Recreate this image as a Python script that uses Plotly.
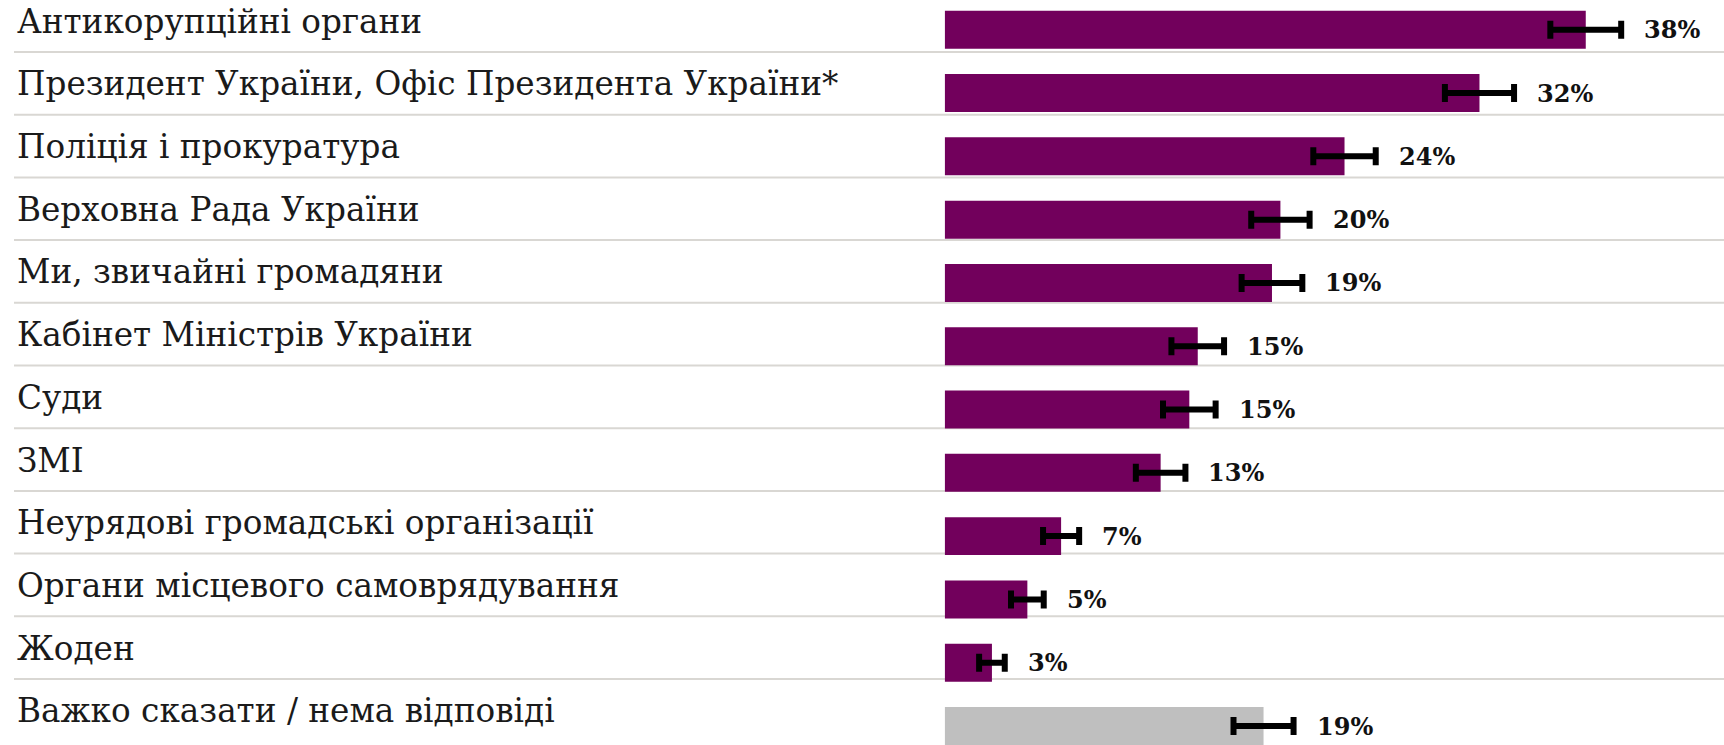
import plotly.graph_objects as go

categories = [
    "Антикорупційні органи",
    "Президент України, Офіс Президента України*",
    "Поліція і прокуратура",
    "Верховна Рада України",
    "Ми, звичайні громадяни",
    "Кабінет Міністрів України",
    "Суди",
    "ЗМІ",
    "Неурядові громадські організації",
    "Органи місцевого самоврядування",
    "Жоден",
    "Важко сказати / нема відповіді",
]
values = [38.0, 31.7, 23.7, 19.9, 19.4, 15.0, 14.5, 12.8, 6.9, 4.9, 2.8, 18.9]
errors = [2.1, 2.05, 1.85, 1.73, 1.8, 1.56, 1.56, 1.47, 1.07, 0.97, 0.76, 1.78]
value_labels = ["38%", "32%", "24%", "20%", "19%", "15%", "15%", "13%", "7%", "5%", "3%", "19%"]

PURPLE = "#72005c"
GRAY = "#bfbfbf"
colors = [PURPLE] * (len(categories) - 1) + [GRAY]

W, H = 1724, 745
LABEL_FONT = "DejaVu Serif"

fig = go.Figure()

# invisible trace registering the categories on the label/separator axis
fig.add_trace(go.Scatter(
    x=[0] * len(categories), y=categories, yaxis="y2", mode="markers",
    marker=dict(opacity=0), hoverinfo="skip", showlegend=False,
))

fig.add_trace(go.Bar(
    x=values, y=categories, orientation="h",
    marker=dict(color=colors, line=dict(width=0)),
    width=0.6,
    error_x=dict(type="data", array=errors, visible=True,
                 color="black", thickness=6, width=9),
    hoverinfo="skip", showlegend=False,
))

annotations = []
for cat, v, e, lab in zip(categories, values, errors, value_labels):
    annotations.append(dict(
        x=v + e, y=cat, xref="x", yref="y", text=lab, showarrow=False,
        xanchor="left", yanchor="middle", xshift=21,
        font=dict(family=LABEL_FONT, size=24, color="#111111", weight="bold"),
    ))
    annotations.append(dict(
        x=15 / W, y=cat, xref="paper", yref="y2", text=cat, showarrow=False,
        xanchor="left", yanchor="middle", yshift=-1,
        font=dict(family=LABEL_FONT, size=32.7, color="#1a1a1a"),
    ))

shapes = []
for j in range(len(categories) - 1):
    shapes.append(dict(
        type="line", xref="paper", yref="y2", x0=14 / W, x1=1,
        y0=j + 0.5, y1=j + 0.5, layer="below",
        line=dict(color="#d9d7d3", width=2),
    ))

fig.update_layout(
    width=W, height=H,
    margin=dict(l=0, r=0, t=0, b=0, pad=0),
    paper_bgcolor="white", plot_bgcolor="white",
    showlegend=False,
    xaxis=dict(domain=[944.7 / W, 1], range=[0, (W - 944.7) / 16.87],
               visible=False, showgrid=False, zeroline=False, fixedrange=True),
    yaxis=dict(type="category", categoryarray=categories,
               range=[11.30, -0.47], visible=False, showgrid=False, fixedrange=True),
    yaxis2=dict(type="category", categoryarray=categories, overlaying="y",
                range=[11.553, -0.329], visible=False, showgrid=False, fixedrange=True),
    annotations=annotations,
    shapes=shapes,
)

fig.write_html(
    "out.html",
    config={"displayModeBar": False},
    post_script="document.body.style.margin='0';document.body.style.overflow='hidden';",
)
